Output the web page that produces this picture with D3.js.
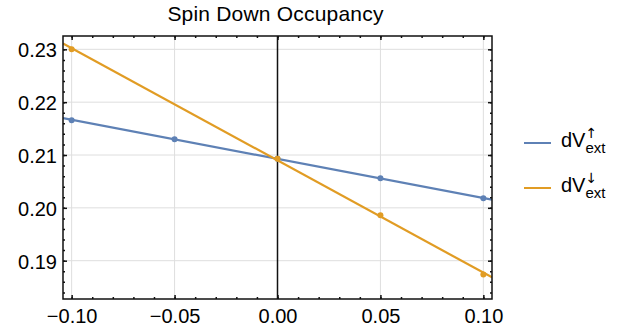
<!DOCTYPE html>
<html>
<head>
<meta charset="utf-8">
<title>Spin Down Occupancy</title>
<script src="https://d3js.org/d3.v7.min.js"></script>
<style>
 body { margin: 0; background: #fff; }
 svg { display: block; font-family: "Liberation Sans", Arial, sans-serif; }
</style>
</head>
<body>
<svg width="625" height="331"></svg>
<script>
 // values
 const upX = [-0.10, -0.05, 0.00, 0.05, 0.10];
 const upY = [0.2166, 0.2130, 0.2093, 0.2056, 0.2018];
 const downX = [-0.10, 0.00, 0.05, 0.10];
 const downY = [0.2300, 0.2093, 0.1986, 0.1874];
 const xTicks = [-0.10, -0.05, 0.00, 0.05, 0.10];
 const yTicks = [0.19, 0.20, 0.21, 0.22, 0.23];
 const seriesNames = ["\u2191", "\u2193"];
 const colors = ["#5E81B5", "#E19C24"];

 const svg = d3.select("svg");
 const margin = {top: 36, right: 133, bottom: 32, left: 63};
 const width = +svg.attr("width");
 const height = +svg.attr("height");
 const innerWidth = width - margin.left - margin.right;
 const innerHeight = height - margin.top - margin.bottom;

 const x = d3.scaleLinear().domain([-0.1042, 0.1042]).range([0, innerWidth]);
 const y = d3.scaleLinear().domain([0.18275, 0.23252]).range([innerHeight, 0]);

 const g = svg.append("g").attr("transform", `translate(${margin.left},${margin.top})`);

 // grid
 g.append("g").selectAll("line").data(xTicks.filter(d => d !== 0)).join("line")
  .attr("x1", d => x(d)).attr("x2", d => x(d))
  .attr("y1", 0).attr("y2", innerHeight)
  .attr("stroke", "#dedede").attr("stroke-width", 1);
 g.append("g").selectAll("line").data(yTicks).join("line")
  .attr("x1", 0).attr("x2", innerWidth)
  .attr("y1", d => y(d)).attr("y2", d => y(d))
  .attr("stroke", "#dedede").attr("stroke-width", 1);

 // zero axis
 g.append("line")
  .attr("x1", x(0)).attr("x2", x(0)).attr("y1", 0).attr("y2", innerHeight)
  .attr("stroke", "#111").attr("stroke-width", 1.5);

 // fitted lines + points
 const series = [
   {xs: upX, ys: upY, color: colors[0]},
   {xs: downX, ys: downY, color: colors[1]}
 ];

 svg.append("defs").append("clipPath").attr("id", "plotclip")
  .append("rect").attr("width", innerWidth).attr("height", innerHeight);

 series.forEach(s => {
   const mx = d3.mean(s.xs), my = d3.mean(s.ys);
   const sxy = d3.sum(s.xs, (v, i) => (v - mx) * (s.ys[i] - my));
   const sxx = d3.sum(s.xs, v => (v - mx) * (v - mx));
   const slope = sxy / sxx;
   const icpt = my - slope * mx;
   const [x0, x1] = x.domain();
   g.append("line")
    .attr("clip-path", "url(#plotclip)")
    .attr("x1", x(x0)).attr("y1", y(icpt + slope * x0))
    .attr("x2", x(x1)).attr("y2", y(icpt + slope * x1))
    .attr("stroke", s.color).attr("stroke-width", 2.2);
   g.append("g").selectAll("circle").data(s.xs).join("circle")
    .attr("cx", d => x(d))
    .attr("cy", (d, i) => y(s.ys[i]))
    .attr("r", 3)
    .attr("fill", s.color);
 });

 // axes: ticks inward on all sides
 const fmt = d => (d < 0 ? "\u2212" : "") + d3.format(".2f")(Math.abs(d));
 const xMinor = d3.range(-10, 11).map(v => v / 100);
 const yMinor = d3.range(92, 116).map(v => v / 500);

 function styleAxis(sel) {
   sel.select(".domain").remove();
   sel.selectAll(".tick line").attr("stroke", "#111").attr("stroke-width", 1.5);
   sel.selectAll("text").attr("fill", "#000").attr("font-size", 20);
 }
 function noLabels(sel) {
   styleAxis(sel);
   sel.selectAll("text").remove();
 }

 g.append("g").attr("transform", `translate(0,${innerHeight})`)
  .call(d3.axisBottom(x).tickValues(xMinor).tickSize(-2)).call(noLabels);
 g.append("g").attr("transform", `translate(0,${innerHeight})`)
  .call(d3.axisBottom(x).tickValues(xTicks).tickSize(-4).tickPadding(10).tickFormat(fmt)).call(styleAxis);
 g.append("g")
  .call(d3.axisTop(x).tickValues(xMinor).tickSize(-2)).call(noLabels);
 g.append("g")
  .call(d3.axisTop(x).tickValues(xTicks).tickSize(-4)).call(noLabels);

 g.append("g")
  .call(d3.axisLeft(y).tickValues(yMinor).tickSize(-2)).call(noLabels);
 const yl = g.append("g")
  .call(d3.axisLeft(y).tickValues(yTicks).tickSize(-4).tickPadding(6).tickFormat(d3.format(".2f"))).call(styleAxis);
 yl.selectAll("text").attr("dy", "0.38em");
 g.append("g").attr("transform", `translate(${innerWidth},0)`)
  .call(d3.axisRight(y).tickValues(yMinor).tickSize(-2)).call(noLabels);
 g.append("g").attr("transform", `translate(${innerWidth},0)`)
  .call(d3.axisRight(y).tickValues(yTicks).tickSize(-4)).call(noLabels);

 // frame
 g.append("rect")
  .attr("width", innerWidth).attr("height", innerHeight)
  .attr("fill", "none").attr("stroke", "#111").attr("stroke-width", 1.5);

 // title
 svg.append("text")
  .attr("x", margin.left + innerWidth / 2 - 2)
  .attr("y", 21)
  .attr("text-anchor", "middle")
  .attr("font-size", 21)
  .attr("letter-spacing", 0.2)
  .attr("fill", "#000")
  .text("Spin Down Occupancy");

 // legend
 const legend = svg.append("g").attr("transform", "translate(524,143)");
 seriesNames.forEach((arrow, i) => {
   const row = legend.append("g").attr("transform", `translate(0,${i * 45})`);
   row.append("line").attr("x1", 0).attr("x2", 27).attr("y1", 0).attr("y2", 0)
    .attr("stroke", colors[i]).attr("stroke-width", 2);
   const main = row.append("text").attr("x", 37).attr("y", 4)
    .attr("font-size", 20).attr("fill", "#000").text("dV");
   const w = main.node().getComputedTextLength();
   row.append("text").attr("x", 37 + w).attr("y", -5)
    .attr("font-family", "DejaVu Sans")
    .attr("font-size", 14).attr("fill", "#000").text(arrow);
   row.append("text").attr("x", 37 + w).attr("y", 10)
    .attr("font-size", 15).attr("fill", "#000").text("ext");
 });
</script>
</body>
</html>
